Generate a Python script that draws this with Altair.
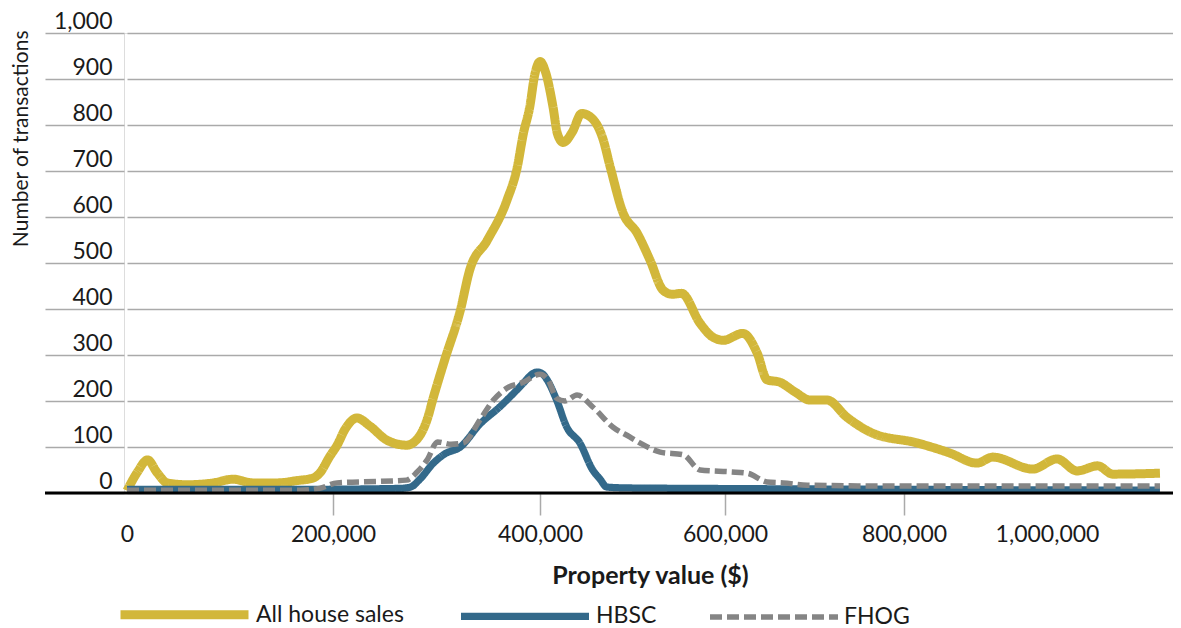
import altair as alt
import pandas as pd

series_names = ["All house sales", "HBSC", "FHOG"]
series_colors = ["#D2B73A", "#33698A", "#858585"]

all_x = [0, 10000, 20000, 29000, 39000, 58000, 84000, 103000, 122000, 146000,
         165000, 180000, 187000, 197000, 204000, 212000, 223000, 236000, 252000, 271000,
         282000, 291000, 297000, 308000, 323000, 332000, 349000, 368000, 378000, 384000,
         390000, 395000, 400000, 406000, 414000, 419000, 425000, 435000, 445000, 456000,
         468000, 476000, 490000, 505000, 519000, 533000, 543000, 553000, 573000, 586000,
         598000, 620000, 636000, 647000, 661000, 678000, 695000, 714000, 736000, 765000,
         818000, 864000, 902000, 924000, 980000, 1014000, 1042000, 1071000, 1092000, 1158000]
all_y = [5, 45, 72, 45, 22, 18, 22, 30, 22, 22,
         27, 32, 43, 80, 104, 140, 163, 145, 115, 104,
         119, 160, 208, 290, 397, 484, 549, 636, 708, 782,
         838, 910, 938, 915, 840, 780, 762, 785, 825, 815,
         770, 708, 608, 565, 506, 441, 432, 434, 369, 340,
         332, 347, 304, 246, 241, 220, 202, 202, 165, 130,
         109, 87, 65, 78, 52, 74, 48, 59, 41, 43]

hbsc_x = [0, 70000, 170000, 265000, 275000, 284000, 297000, 308000, 323000, 342000,
          361000, 384000, 392000, 397000, 402000, 408000, 418000, 429000, 443000, 457000,
          465000, 472000, 494000, 573000, 796000, 1158000]
hbsc_y = [8, 8, 8, 10, 13, 30, 65, 85, 100, 150,
          187, 239, 258, 263, 260, 245, 202, 143, 109, 50,
          30, 13, 11, 10, 8, 6]

fhog_x = [0, 168000, 187000, 204000, 226000, 271000, 281000, 291000, 301000, 314000,
          326000, 342000, 355000, 368000, 384000, 400000, 409000, 418000, 427000, 440000,
          457000, 479000, 497000, 508000, 530000, 555000, 573000, 606000, 625000, 647000,
          665000, 692000, 796000, 1158000]
fhog_y = [6, 6, 10, 22, 24, 28, 45, 72, 111, 106,
          109, 159, 202, 228, 241, 258, 245, 206, 200, 213,
          187, 143, 122, 109, 89, 83, 50, 46, 43, 24,
          22, 17, 15, 15]

x_tick_values = [0, 200000, 400000, 600000, 800000, 1000000]
y_tick_values = [0, 100, 200, 300, 400, 500, 600, 700, 800, 900, 1000]

rows = []
for name, xs, ys in [(series_names[0], all_x, all_y),
                     (series_names[1], hbsc_x, hbsc_y),
                     (series_names[2], fhog_x, fhog_y)]:
    for xv, yv in zip(xs, ys):
        rows.append({"series": name, "value": xv, "count": yv})
df = pd.DataFrame(rows)

FONT = "Lato"
TXT = "#1a1a1a"
GRID = "#aaaaaa"

W, H = 1049, 460

x_scale = alt.Scale(domain=[0, 200000, 400000, 600000, 800000, 1000000, 1200000],
                    range=[3, 209, 416, 601, 780, 923, 1066], nice=False, zero=False)

legend = alt.Legend(orient="none", legendX=-8, legendY=513, direction="horizontal",
                    title=None, symbolType="stroke", symbolSize=16384,
                    labelFont=FONT, labelFontSize=23, labelColor=TXT,
                    labelOffset=3, columnPadding=42, padding=0, symbolOpacity=1)

lines = alt.Chart(df).mark_line(interpolate="monotone", strokeCap="butt").encode(
    x=alt.X("value:Q", scale=x_scale, title="Property value ($)",
            axis=alt.Axis(values=x_tick_values, format=",d", labelFont=FONT, labelFontSize=23,
                          labelColor=TXT, labelFlush=False, tickSize=22, tickColor=GRID,
                          tickWidth=1.5,
                          tickOpacity={"condition": {"test": "datum.value == 0 || datum.value == 1000000", "value": 0}, "value": 1},
                          labelPadding=8, domain=False, grid=False,
                          titleFont=FONT, titleFontSize=25, titleFontWeight="bold",
                          titleColor=TXT, titlePadding=17, titleX=526)),
    y=alt.Y("count:Q", scale=alt.Scale(domain=[0, 1000], nice=False), title="Number of transactions",
            axis=alt.Axis(values=y_tick_values, format=",d", labelFont=FONT, labelFontSize=23,
                          labelColor=TXT, tickSize=79, tickColor=GRID, tickWidth=1.5,
                          labelPadding=-67, labelBaseline="alphabetic", labelOffset=-5,
                          domain=False, grid=True, gridColor=GRID, gridWidth=1.5,
                          titleFont=FONT, titleFontSize=21, titleFontWeight="normal",
                          titleColor=TXT, titleAngle=-90, titleAlign="right",
                          titleBaseline="alphabetic", titleX=-97, titleY=-3)),
    color=alt.Color("series:N", scale=alt.Scale(domain=series_names, range=series_colors), legend=legend),
    strokeDash=alt.StrokeDash("series:N", scale=alt.Scale(domain=series_names, range=[[1, 0], [1, 0], [12, 5]]), legend=legend),
    strokeWidth=alt.StrokeWidth("series:N", scale=alt.Scale(domain=series_names, range=[9, 5.5, 6]), legend=legend),
)

base_line = alt.Chart(pd.DataFrame({"count": [0]})).mark_rule(color="black", strokeWidth=3).encode(
    y="count:Q", x=alt.value(-79), x2=alt.value(W + 10)
)

chart = alt.layer(lines, base_line).properties(
    width=W, height=H,
    autosize=alt.AutoSizeParams(type="none"),
    padding={"left": 116, "top": 25, "right": 0, "bottom": 135},
).configure_view(fill="#EEEEEE", strokeWidth=0).configure(background="white")

chart.save("out.html", embed_options={"renderer": "svg", "actions": False})
